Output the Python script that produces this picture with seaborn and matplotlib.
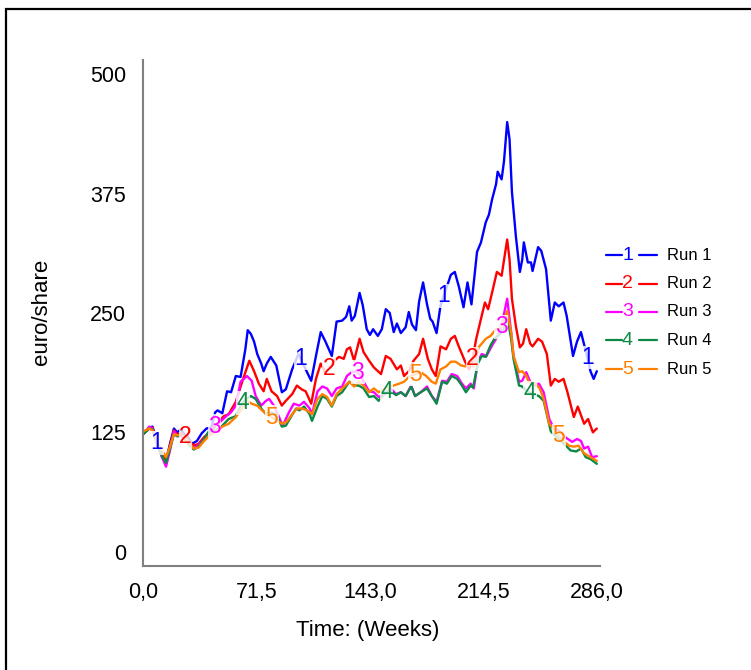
import numpy as np
import pandas as pd
import matplotlib
matplotlib.use("Agg")
import matplotlib.pyplot as plt
from matplotlib.lines import Line2D
from matplotlib.patches import Rectangle
import seaborn as sns

# ---- data: share price per simulation run (euro/share) over time in weeks ----
runs = ["Run 1", "Run 2", "Run 3", "Run 4", "Run 5"]
colors = ["#0000ff", "#ff0000", "#ff00ff", "#0a8a45", "#ff8000"]

weeks_1 = [0, 4, 6, 9, 12, 14.5, 17, 19.5, 21.5, 24,
           26, 28, 31, 34, 37, 40, 43, 45.5, 47, 50,
           53, 55.5, 58.5, 61.5, 64.5, 66, 68, 70, 72, 74.5,
           76, 78, 80.5, 84, 85.5, 87.5, 90, 94, 98, 102.5,
           106, 109, 112, 115, 119, 122, 125.5, 128, 130, 131.5,
           133.5, 136.5, 138.5, 141, 143, 145, 148, 150.5, 153, 155.5,
           158, 160, 162.5, 165.5, 167.5, 169.5, 172, 174, 176.5, 179,
           181, 182.5, 185, 187.5, 191, 194, 196.5, 199, 202, 204.5,
           207, 210.5, 213, 216, 218, 220, 222.5, 223.5, 226, 227.5,
           229.5, 231, 232.5, 235, 237.5, 239, 240, 242.5, 244.5, 245.5,
           249, 251, 254, 257, 259.5, 262, 265, 267, 271, 273.5,
           276, 279.5, 282, 284, 286]
run_1 = [123, 130, 131, 113, 99, 95, 113, 129, 125, 128,
         123, 121, 113, 116, 124, 129, 130, 146, 148, 145,
         168, 167, 184, 183, 212, 232, 228, 220, 207, 197,
         189, 197, 204, 195, 183, 167, 170, 191, 207, 191,
         179, 205, 230, 220, 205, 241, 242, 246, 257, 242,
         247, 271, 258, 233, 227, 233, 226, 233, 254, 250,
         230, 239, 229, 235, 251, 238, 232, 262, 282, 259,
         244, 241, 229, 258, 275, 290, 293, 278, 256, 282,
         259, 314, 324, 345, 353, 369, 385, 398, 390, 409,
         450, 432, 377, 330, 293, 306, 324, 303, 303, 294,
         319, 315, 296, 242, 261, 257, 261, 247, 205, 220,
         230, 207, 189, 181, 189]

weeks_2 = [0, 4, 6, 9, 12, 14.5, 17, 19.5, 21.5, 24,
           26.5, 29, 32, 35, 38.5, 41.5, 44.5, 48, 51, 54,
           58.5, 62.5, 67, 70, 73, 76, 78, 81, 84.5, 87.5,
           90, 94, 97, 100, 102.5, 106, 109, 112, 115, 118,
           120.5, 123.5, 126.5, 128.5, 130.5, 133, 136.5, 139, 142.5, 145.5,
           150, 153, 156, 160, 162.5, 164.5, 167.5, 170.5, 174, 176.5,
           179.5, 182, 184.5, 187.5, 191, 194, 196.5, 199, 203, 205.5,
           207.5, 210, 213, 215.5, 217.5, 220.5, 223, 226, 229.5, 231,
           232.5, 235, 237.5, 239.5, 241.5, 244, 245.5, 249, 251.5, 254.5,
           257, 259.5, 262, 265, 267.5, 271.5, 274, 278, 280.5, 283.5,
           286]
run_2 = [123, 129, 130, 113, 102, 95, 111, 127, 123, 124,
         121, 116, 111, 113, 120, 124, 129, 137, 142, 144,
         157, 178, 200, 189, 176, 168, 181, 168, 163, 153,
         158, 165, 174, 170, 168, 155, 181, 197, 188, 193,
         200, 204, 202, 212, 214, 200, 223, 209, 200, 193,
         186, 205, 202, 191, 195, 184, 189, 200, 207, 223,
         202, 191, 184, 215, 212, 223, 226, 215, 199, 191,
         200, 223, 244, 261, 254, 275, 293, 289, 327, 306,
         265, 236, 214, 218, 233, 218, 215, 223, 220, 207,
         174, 181, 178, 181, 167, 141, 152, 134, 139, 125,
         129]

weeks_3 = [0, 4, 6, 9, 12, 14.5, 17, 19.5, 21.5, 24,
           26.5, 29, 32, 35, 38.5, 41.5, 44.5, 48, 52.5, 55.5,
           58.5, 61.5, 65.5, 68.5, 71, 74.5, 77.5, 79.5, 82.5, 85.5,
           88, 92, 95, 98.5, 101.5, 105, 106.5, 110, 113, 116,
           119, 122, 125.5, 128.5, 131.5, 135, 138, 142.5, 145.5, 148.5,
           152.5, 156, 159.5, 162.5, 165.5, 169, 171.5, 175, 179, 182,
           185, 188.5, 191.5, 194.5, 198, 201, 203.5, 206.5, 208.5, 211,
           213.5, 216.5, 220, 222.5, 225.5, 229.5, 232, 233.5, 237, 239,
           241.5, 244.5, 247.5, 249.5, 252.5, 256, 259, 262, 266, 270.5,
           273.5, 276, 278, 280.5, 283, 286]
run_3 = [123, 131, 129, 113, 99, 89, 106, 126, 121, 121,
         118, 113, 108, 112, 118, 125, 131, 135, 142, 146,
         153, 178, 184, 179, 163, 153, 158, 160, 153, 142,
         132, 146, 155, 153, 157, 150, 144, 168, 173, 171,
         163, 171, 173, 184, 188, 189, 181, 168, 167, 162,
         165, 171, 165, 167, 163, 174, 163, 167, 173, 163,
         157, 179, 178, 186, 184, 176, 171, 176, 171, 199,
         207, 205, 216, 223, 233, 265, 230, 205, 178, 179,
         188, 176, 174, 176, 167, 139, 129, 127, 120, 115,
         118, 116, 108, 110, 99, 100]

weeks_4 = [0, 4, 6, 9, 12, 14.5, 17, 19.5, 21.5, 24,
           26.5, 29, 32, 35, 38.5, 41.5, 46, 50, 54, 58.5,
           61.5, 65, 68, 71, 74.5, 77.5, 79.5, 84, 87.5, 90,
           93.5, 96.5, 98.5, 101.5, 105, 106.5, 110, 113, 116, 119,
           122, 125.5, 130, 134, 136, 139, 142.5, 145.5, 148.5, 152.5,
           156, 159.5, 162.5, 165.5, 169, 171.5, 175, 179, 182, 185,
           188.5, 191.5, 194.5, 198, 201, 203.5, 206.5, 208, 211, 213.5,
           216, 219, 221.5, 225, 227.5, 229.5, 232, 233.5, 237, 239,
           242, 245.5, 249.5, 252.5, 257, 260, 263.5, 266.5, 269.5, 273,
           276, 279, 282, 286]
run_4 = [123, 129, 128, 112, 100, 93, 108, 123, 121, 122,
         118, 112, 107, 110, 118, 126, 127, 132, 139, 142,
         153, 160, 163, 160, 150, 144, 146, 144, 131, 132,
         142, 150, 148, 152, 144, 137, 152, 163, 160, 152,
         163, 167, 178, 174, 174, 171, 162, 163, 158, 167,
         168, 164, 167, 163, 173, 163, 167, 171, 163, 155,
         178, 176, 184, 181, 174, 167, 174, 172, 197, 205,
         204, 216, 223, 228, 233, 247, 223, 202, 174, 173,
         168, 165, 163, 158, 126, 121, 116, 111, 106, 105,
         108, 99, 97, 92]

weeks_5 = [0, 4, 6, 9, 12, 14.5, 17, 19.5, 21.5, 24,
           26.5, 29, 32, 35, 38.5, 41.5, 46, 50, 54, 58.5,
           62.5, 65.5, 68.5, 72, 75, 78, 81, 84.5, 87.5, 90.5,
           94, 97, 100, 103.5, 106.5, 110, 113, 116, 119, 122,
           125.5, 130, 133, 136, 139, 142.5, 145.5, 148.5, 152.5, 156,
           161.5, 164.5, 167.5, 171.5, 175, 178.5, 182, 184.5, 187.5, 191,
           194, 197, 200.5, 203.5, 206.5, 208.5, 211.5, 216, 219, 222.5,
           224.5, 226, 229.5, 232, 233.5, 237, 239, 241.5, 243, 247.5,
           250, 252.5, 256, 259.5, 263.5, 268.5, 271.5, 274.5, 278, 281,
           286]
run_5 = [126, 129, 127, 114, 106, 99, 110, 123, 122, 122,
         120, 114, 108, 109, 116, 121, 126, 131, 134, 141,
         150, 158, 155, 153, 148, 144, 141, 137, 134, 136,
         144, 150, 150, 148, 144, 160, 165, 162, 153, 165,
         171, 178, 173, 178, 174, 167, 171, 167, 171, 173,
         176, 178, 183, 186, 188, 184, 178, 176, 191, 194,
         199, 199, 195, 194, 197, 194, 214, 223, 226, 233,
         233, 236, 252, 230, 205, 188, 189, 184, 178, 176,
         171, 160, 134, 127, 118, 111, 110, 111, 103, 100,
         95]

x_ticks = [0, 71.5, 143, 214.5, 286]
y_ticks = [0, 125, 250, 375, 500]
x_title = "Time: (Weeks)"
y_title = "euro/share"

weeks_all = [weeks_1, weeks_2, weeks_3, weeks_4, weeks_5]
values_all = [run_1, run_2, run_3, run_4, run_5]

# ---- long-form table for seaborn ----
df = pd.concat(
    [pd.DataFrame({"week": w, "value": v, "run": r})
     for r, w, v in zip(runs, weeks_all, values_all)],
    ignore_index=True,
)

sns.set_theme(style="white")
plt.rcParams["font.family"] = ["Liberation Sans", "DejaVu Sans"]

W, H = 751, 670
fig = plt.figure(figsize=(W / 100, H / 100), dpi=100)
fig.patch.set_facecolor("white")
ax = fig.add_axes([143 / W, 104 / H, 457 / W, 506 / H])

sns.lineplot(data=df, x="week", y="value", hue="run", hue_order=runs,
             palette=dict(zip(runs, colors)), estimator=None, sort=True,
             linewidth=1.7, legend=False, ax=ax)

ax.set_xlim(0, 288)
ax.set_ylim(-15, 515)

# inline run numbers along each curve, on a translucent white patch
first, step, shift = 8.8, 90.4, 18.1
for k, (w, v, c) in enumerate(zip(weeks_all, values_all, colors)):
    pos = first + shift * k
    while pos < 286:
        ax.text(pos, np.interp(pos, w, v), str(k + 1), color=c, fontsize=16.5,
                ha="center", va="center", zorder=6,
                bbox=dict(boxstyle="square,pad=0.02", fc="white",
                          ec="none", alpha=0.8))
        pos += step

# axes styling
ax.set_xticks(x_ticks)
ax.set_xticklabels([f"{t:.1f}".replace(".", ",") for t in x_ticks])
ax.set_yticks(y_ticks)
ax.set_yticklabels([str(t) for t in y_ticks])
ax.tick_params(axis="both", length=0, labelsize=15.5, colors="black")
ax.tick_params(axis="x", pad=11.5)
ax.tick_params(axis="y", pad=12)
for side in ("top", "right"):
    ax.spines[side].set_visible(False)
for side in ("left", "bottom"):
    ax.spines[side].set_color("#808080")
    ax.spines[side].set_linewidth(1.5)

ax.set_xlabel(x_title, fontsize=16, color="black")
ax.set_ylabel(y_title, fontsize=16, color="black")
ax.xaxis.set_label_coords(0.492, -0.107)
ax.yaxis.set_label_coords(-0.2, 0.502)

# legend: line - number - line  RunName
row_y = [255, 283.5, 312, 340.5, 369]
for k, (r, c) in enumerate(zip(runs, colors)):
    yf = 1 - row_y[k] / H
    fig.add_artist(Line2D([606 / W, 622 / W], [yf, yf], color=c, lw=1.6))
    fig.text(627.5 / W, yf, str(k + 1), color=c, fontsize=14,
             ha="center", va="center")
    fig.add_artist(Line2D([639 / W, 657 / W], [yf, yf], color=c, lw=1.6))
    fig.text(667 / W, yf, r, color="black", fontsize=12,
             ha="left", va="center")

# outer frame
fig.add_artist(Rectangle((6 / W, -0.2), 1.3, (1 - 9 / H) + 0.2,
                         transform=fig.transFigure, fill=False,
                         ec="black", lw=1.6, clip_on=False))

fig.savefig("out.png", dpi=100, facecolor="white")
